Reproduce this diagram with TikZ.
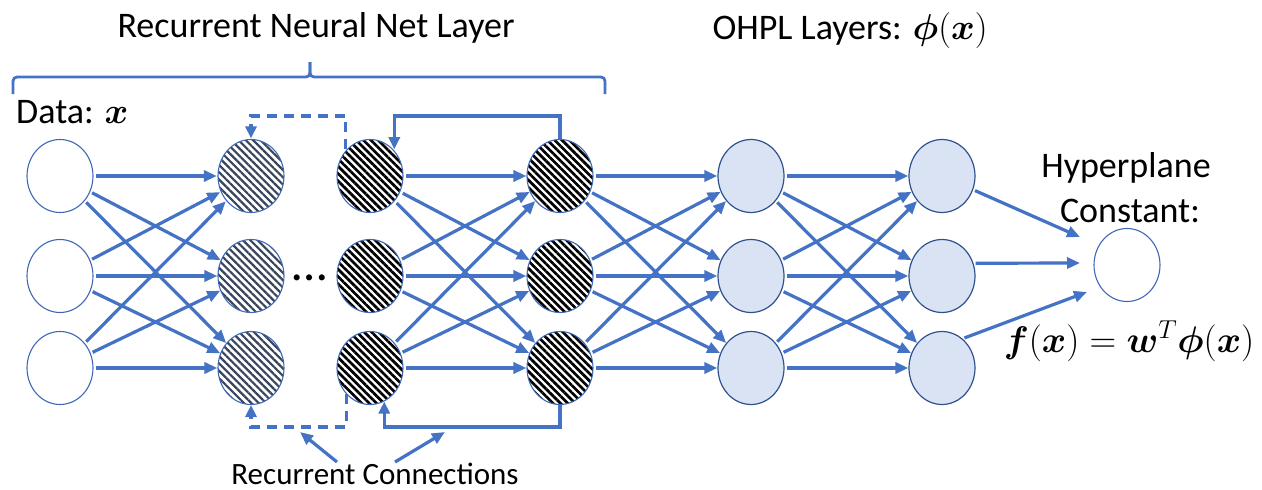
\RequirePackage{fix-cm}
\documentclass[tikz,border=0pt]{standalone}
\usepackage{amsmath,bm}
\usepackage[no-math]{fontspec}
\setmainfont{Carlito}
\usetikzlibrary{shapes.geometric,arrows.meta,patterns.meta,calc}

\definecolor{lineblue}{HTML}{4472C4}
\definecolor{rimblue}{HTML}{3F69B5}
\definecolor{deepblue}{HTML}{2F528F}
\definecolor{paleblue}{HTML}{DAE3F3}
\definecolor{slate}{HTML}{38455C}

% decision function shown under the output unit
\newcommand{\hpform}{$\bm{f}\mathbf{(}\bm{x}\mathbf{)}\mathrel{\mathbf{=}}\bm{w}^{T}\bm{\phi}\mathbf{(}\bm{x}\mathbf{)}$}

\begin{document}
\begin{tikzpicture}[x=1pt,y=-1pt,
  wire/.style={draw=lineblue, line width=3.2pt, -{Triangle[length=13pt,width=11pt]}, shorten <=2pt},
  loopwire/.style={draw=lineblue, line width=3.2pt, -{Triangle[length=12pt,width=11pt]}},
  dashwire/.style={loopwire, dash pattern=on 10pt off 7pt},
  bracket/.style={draw=lineblue, line width=2.8pt, rounded corners=4pt},
  unit/.style={ellipse, draw=rimblue, line width=1.1pt, minimum width=66pt, minimum height=73pt, inner sep=0pt},
  plainunit/.style={unit, fill=white},
  litehatch/.style={unit, pattern={Lines[angle=-45,distance=5.2pt,line width=2.2pt]}, pattern color=slate},
  densehatch/.style={unit, pattern={Lines[angle=-45,distance=5.2pt,line width=2.7pt]}, pattern color=black},
  ohplunit/.style={unit, fill=paleblue, draw=deepblue, line width=1.2pt},
  bigtext/.style={font=\fontsize{36}{40}\selectfont, inner sep=0pt},
  formtext/.style={font=\fontsize{37}{42}\selectfont, inner sep=0pt},
  midtext/.style={font=\fontsize{31}{36}\selectfont, inner sep=0pt}
]
\useasboundingbox (0,0) rectangle (1262,490);

% ---- units ----
\foreach \r/\y in {a/176, b/276, c/368}{
  \node[plainunit]  (d\r) at (60,\y)  {};
  \node[litehatch]  (h2\r) at (251,\y) {};
  \node[densehatch] (h3\r) at (370,\y) {};
  \node[densehatch] (h4\r) at (560,\y) {};
  \node[ohplunit]   (o5\r) at (751,\y) {};
  \node[ohplunit]   (o6\r) at (942,\y) {};
}
\node[plainunit] (out) at (1127,265) {};

% ---- dense connections between consecutive layers ----
\foreach \s/\t in {d/h2, h3/h4, h4/o5, o5/o6}{
  \foreach \i in {a,b,c}{
    \foreach \j in {a,b,c}{
      \draw[wire] (\s\i) -- (\t\j);
    }
  }
}

% ---- into the hyperplane constant ----
\coordinate (ft1) at (1080,237);
\coordinate (ft2) at (1080,263);
\coordinate (ft3) at (1087,292);
\draw[wire] (o6a) -- (ft1);
\draw[wire] (o6b.22) -- (ft2);
\draw[wire] (o6c.55) -- (ft3);

% ---- recurrent loops ----
\coordinate (toprail) at (0,116);
\coordinate (botrail) at (0,427);
\draw[dashwire] (h3a.north west) -- (h3a.north west |- toprail) -| (h2a.north);
\draw[dashwire] (h3c.south west) -- (h3c.south west |- botrail) -| (h2c.south);
\draw[loopwire] (h4a.north) -- (h4a.north |- toprail) -| (h3a.north east);
\draw[loopwire] (h4c.south) -- (h4c.south |- botrail) -| (h3c.-67);

% ---- ellipsis between the hatched layers ----
\node[font=\fontsize{50}{56}\selectfont, inner sep=0pt, anchor=base] (gap) at (310,280) {\dots};

% ---- bracket over the recurrent part ----
\coordinate (brl) at (13,94);
\coordinate (brm) at (310,62);
\coordinate (brr) at (605,94);
\draw[bracket] (brl) -- (13,77) -- (310,77) -- (brm);
\draw[bracket] (brm) -- (310,77) -- (605,77) -- (brr);

% ---- labels ----
\node[bigtext, anchor=base] (rnntitle) at (316,37) {Recurrent Neural Net Layer};
\node[bigtext, anchor=base] (ohpltitle) at (850,39) {OHPL Layers: $\bm{\phi}(\bm{x})$};
\node[bigtext, anchor=base west] (datalabel) at (16,123) {Data: $\bm{x}$};
\node[bigtext, anchor=base] (hyp1) at (1126,177) {Hyperplane};
\node[bigtext, anchor=base] (hyp2) at (1130,222) {Constant:};
\node[formtext, anchor=base] (decision) at (1129,352) {\hpform};
\node[midtext, anchor=base] (rclabel) at (375,484) {Recurrent Connections};

% ---- pointers from the label to the loops ----
\coordinate (rc1tail) at (337,462);
\coordinate (rc1tip) at (300,432);
\coordinate (rc2tail) at (395,462);
\coordinate (rc2tip) at (445,432);
\draw[wire, shorten <=0pt] (rc1tail) -- (rc1tip);
\draw[wire, shorten <=0pt] (rc2tail) -- (rc2tip);
\end{tikzpicture}
\end{document}
